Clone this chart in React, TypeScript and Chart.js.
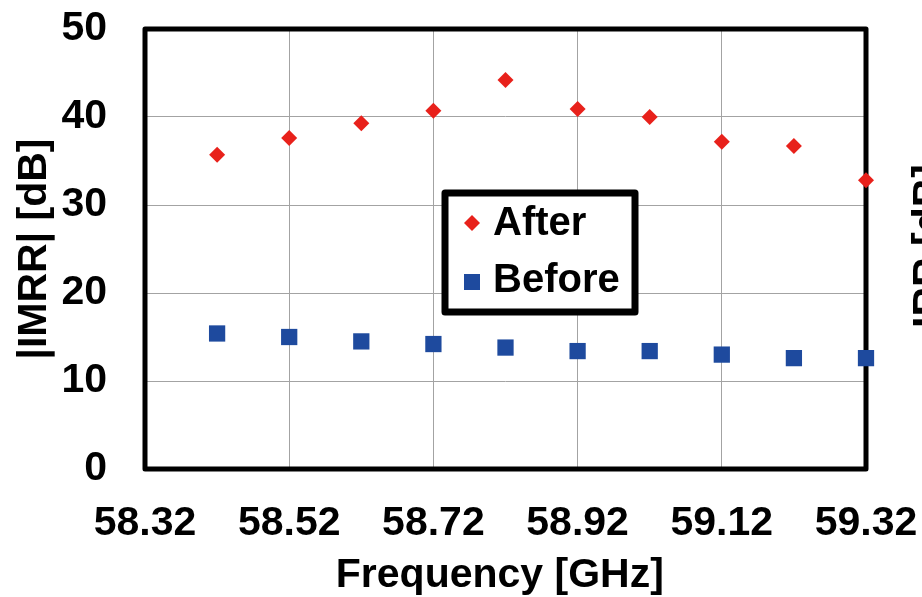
import React, { useEffect, useRef } from "react";
import { Chart, registerables } from "chart.js";

Chart.register(...registerables);

// ---- Data ----
const frequencies = [58.42, 58.52, 58.62, 58.72, 58.82, 58.92, 59.02, 59.12, 59.22, 59.32];
const afterValues = [35.7, 37.6, 39.3, 40.7, 44.2, 40.9, 40.0, 37.2, 36.7, 32.8];
const beforeValues = [15.4, 15.0, 14.5, 14.2, 13.8, 13.4, 13.4, 13.0, 12.6, 12.6];
const xTickValues = [58.32, 58.52, 58.72, 58.92, 59.12, 59.32];
const yTickValues = [0, 10, 20, 30, 40, 50];
const seriesLabels = ["After", "Before"];
const xTitle = "Frequency [GHz]";
const yTitle = "|IMRR| [dB]";
const sideTitle = "IRR [dB]";

const FONT = "'Liberation Sans', Arial, Helvetica, sans-serif";
const RED = "#E8211B";
const BLUE = "#1E4A9E";

const framePlugin = {
  id: "frame",
  beforeDatasetsDraw(chart: any) {
    const { ctx, chartArea } = chart;
    ctx.save();
    ctx.strokeStyle = "#000";
    ctx.lineWidth = 5;
    ctx.lineJoin = "round";
    ctx.strokeRect(
      chartArea.left,
      chartArea.top,
      chartArea.right - chartArea.left,
      chartArea.bottom - chartArea.top
    );
    ctx.restore();
  },
};

const legendPlugin = {
  id: "boxLegend",
  afterDatasetsDraw(chart: any) {
    const { ctx } = chart;
    ctx.save();
    const bx = 445, by = 193, bw = 190, bh = 119;
    ctx.fillStyle = "#fff";
    ctx.fillRect(bx, by, bw, bh);
    ctx.strokeStyle = "#000";
    ctx.lineWidth = 7;
    ctx.lineJoin = "round";
    ctx.strokeRect(bx, by, bw, bh);

    const ds = chart.data.datasets;
    // After: diamond
    const mx = 472;
    let my = 223;
    ctx.fillStyle = ds[0].backgroundColor;
    ctx.beginPath();
    ctx.moveTo(mx - 8, my);
    ctx.lineTo(mx, my - 8);
    ctx.lineTo(mx + 8, my);
    ctx.lineTo(mx, my + 8);
    ctx.closePath();
    ctx.fill();
    // Before: square
    my = 282;
    ctx.fillStyle = ds[1].backgroundColor;
    ctx.fillRect(mx - 8, my - 8, 16, 16);

    ctx.fillStyle = "#000";
    ctx.font = `bold 40px ${FONT}`;
    ctx.textAlign = "left";
    ctx.textBaseline = "alphabetic";
    ctx.fillText(ds[0].label, 493, 235);
    ctx.fillText(ds[1].label, 493, 292);

    // clipped side label of neighbouring axis
    ctx.translate(941, 246);
    ctx.rotate(-Math.PI / 2);
    ctx.textAlign = "center";
    ctx.font = `bold 41px ${FONT}`;
    ctx.fillText(sideTitle, 0, 0);
    ctx.restore();
  },
};

export default function App() {
  const canvasRef = useRef<HTMLCanvasElement | null>(null);

  useEffect(() => {
    if (!canvasRef.current) return;
    const chart = new Chart(canvasRef.current, {
      type: "scatter",
      data: {
        datasets: [
          {
            label: seriesLabels[0],
            data: frequencies.map((f, i) => ({ x: f, y: afterValues[i] })),
            backgroundColor: RED,
            borderColor: RED,
            borderWidth: 0,
            pointStyle: "rectRot",
            pointRadius: 8,
            pointHoverRadius: 8,
            clip: false,
          } as any,
          {
            label: seriesLabels[1],
            data: frequencies.map((f, i) => ({ x: f, y: beforeValues[i] })),
            backgroundColor: BLUE,
            borderColor: BLUE,
            borderWidth: 0,
            pointStyle: "rect",
            pointRadius: 11.5,
            pointHoverRadius: 11.5,
            clip: false,
          } as any,
        ],
      },
      options: {
        responsive: false,
        animation: false,
        events: [],
        layout: { padding: { top: 29, right: 56, left: 0, bottom: 0 } },
        plugins: {
          legend: { display: false },
          tooltip: { enabled: false },
          title: { display: false },
        },
        scales: {
          x: {
            type: "linear",
            min: xTickValues[0],
            max: xTickValues[xTickValues.length - 1],
            afterBuildTicks: (scale: any) => {
              scale.ticks = xTickValues.map((v) => ({ value: v }));
            },
            afterFit: (scale: any) => {
              scale.height = 128;
              scale.paddingLeft = 0;
              scale.paddingRight = 0;
            },
            border: { display: false },
            grid: { color: "#a3a3a3", lineWidth: 1, drawTicks: false },
            ticks: {
              autoSkip: false,
              maxRotation: 0,
              minRotation: 0,
              padding: 30,
              color: "#000",
              font: { family: FONT, size: 41, weight: "bold" },
              callback: (v: any) => Number(v).toFixed(2),
            },
            title: {
              display: true,
              text: xTitle + " ",
              color: "#000",
              font: { family: FONT, size: 41, weight: "bold", lineHeight: 1 },
              padding: { top: 1, bottom: 1 },
            },
          },
          y: {
            type: "linear",
            min: yTickValues[0],
            max: yTickValues[yTickValues.length - 1],
            afterBuildTicks: (scale: any) => {
              scale.ticks = yTickValues.map((v) => ({ value: v }));
            },
            afterFit: (scale: any) => {
              scale.width = 145;
              scale.paddingTop = 0;
              scale.paddingBottom = 0;
            },
            border: { display: false },
            grid: { color: "#a3a3a3", lineWidth: 1, drawTicks: false },
            ticks: {
              padding: 38,
              color: "#000",
              font: { family: FONT, size: 41, weight: "bold" },
            },
            title: {
              display: true,
              text: yTitle,
              color: "#000",
              font: { family: FONT, size: 41, weight: "bold", lineHeight: 1 },
              padding: { top: 14, bottom: 14 },
            },
          },
        },
      } as any,
      plugins: [framePlugin, legendPlugin],
    });
    return () => chart.destroy();
  }, []);

  return (
    <div style={{ position: "fixed", left: 0, top: 0, width: 922, height: 597, background: "#fff" }}>
      <canvas ref={canvasRef} width={922} height={597} style={{ display: "block" }} />
    </div>
  );
}
